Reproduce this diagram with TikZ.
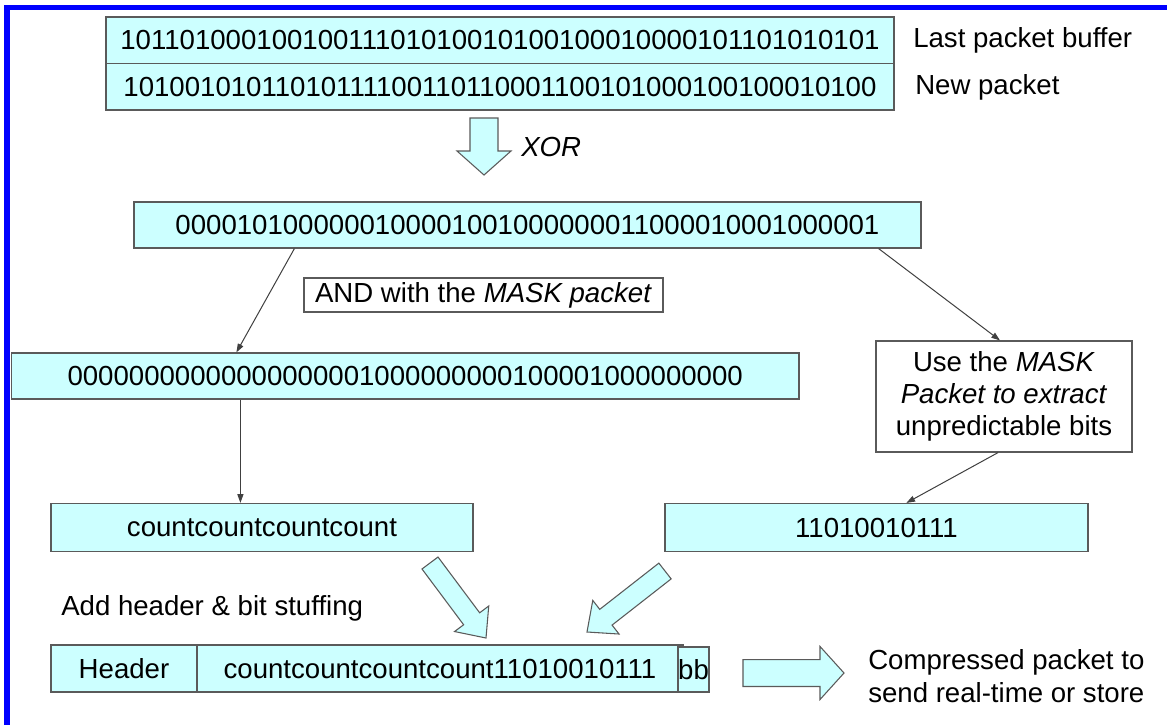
\documentclass[tikz,border=0pt]{standalone}
\usepackage{fontspec}
\setmainfont{Liberation Sans}
\usetikzlibrary{calc,arrows.meta}
\definecolor{cyanfill}{RGB}{204,255,255}
\definecolor{edge}{RGB}{90,90,90}
\definecolor{frameblue}{RGB}{0,0,255}
% block arrow from tail #1 to tip #2: shaft half width #3, head half width #4, head length #5
\newcommand{\myblockarrow}[5]{%
  \coordinate (#1-m) at ($(#2)!#5!(#1)$);
  \draw[barrow] ($(#1)!#3!90:(#2)$) -- ($(#1-m)!#3!-90:(#1)$) -- ($(#1-m)!#4!-90:(#1)$) -- (#2)
    -- ($(#1-m)!#4!90:(#1)$) -- ($(#1-m)!#3!90:(#1)$) -- ($(#1)!#3!-90:(#2)$) -- cycle;}

\begin{document}
\begin{tikzpicture}[x=0.75pt,y=-0.75pt,
  every node/.style={font=\fontsize{20.7}{24}\selectfont, text=black},
  wh/.style 2 args={minimum width=#1*0.75pt, minimum height=#2*0.75pt},
  cbox/.style={draw=edge, fill=cyanfill, line width=0.9pt, inner sep=0pt},
  wbox/.style={draw=edge, fill=white, line width=0.9pt, inner sep=0pt},
  txt/.style={inner sep=0pt},
  conn/.style={draw=black!75, line width=0.75pt, -{Triangle[length=6.5pt,width=4.5pt]}},
  barrow/.style={draw=edge, fill=cyanfill, line width=0.8pt, line join=miter}]

\fill[white] (0,0) rectangle (1167,725);
\useasboundingbox (0,0) rectangle (1167,725);

% blue frame (top and left visible)
\fill[frameblue] (4,5) rectangle (1167,10);
\fill[frameblue] (4,5) rectangle (10,725);

% top packets
\node[cbox, wh={788}{46.5}] (last) at (500,40.25) {10110100010010011101010010100100010000101101010101};
\node[cbox, wh={788}{46.5}] (new) at (500,86.75) {10100101011010111100110110001100101000100100010100};
\node[txt, anchor=west] (lastlbl) at (913,40) {Last packet buffer};
\node[txt, anchor=west] (newlbl) at (915,87) {New packet};

% XOR arrow
\coordinate (xt) at (484,118);
\coordinate (xp) at (484,175);
\myblockarrow{xt}{xp}{10.5pt}{20.25pt}{18pt}
\node[txt, anchor=west] (xorlbl) at (521,147) {\textit{XOR}};

% XOR result
\node[cbox, wh={787}{46}] (xor) at (527.5,225) {0000101000000100001001000000011000010001000001};

% AND label
\node[wbox, wh={359}{34}] (andlbl) at (483.5,295) {AND with the \textit{MASK packet}};

% AND result
\node[cbox, wh={787.5}{46}] (and) at (405.25,376) {00000000000000000001000000000100001000000000};

% Use the MASK box
\node[wbox, wh={256}{111}, align=center] (use) at (1004,396.5) {Use the \textit{MASK}\\\textit{Packet to extract}\\unpredictable bits};

% count and bits boxes
\node[cbox, wh={422}{48}] (cnt) at (262,527.5) {countcountcountcount};
\node[cbox, wh={423}{48}] (bits) at (876.5,527.5) {11010010111};

% diagonal block arrows
\coordinate (la1) at (430,563);
\coordinate (la2) at (486,638);
\myblockarrow{la1}{la2}{7.5pt}{16pt}{18pt}
\coordinate (ra1) at (665,571);
\coordinate (ra2) at (587,632);
\myblockarrow{ra1}{ra2}{7.5pt}{16pt}{18pt}

\node[txt, anchor=west] (addlbl) at (61,608) {Add header \& bit stuffing};

% final packet
\node[cbox, wh={146}{47}] (hdr) at (124,668.5) {Header};
\node[cbox, wh={486}{47}] (data) at (440,668.5) {countcountcountcount11010010111};
\node[cbox, wh={31}{45}] (bb) at (693.5,669.5) {bb};

% output arrow
\coordinate (ht) at (743,673);
\coordinate (hp) at (844,673);
\myblockarrow{ht}{hp}{10.1pt}{19.9pt}{18pt}
\node[txt, anchor=west, align=left, font=\fontsize{20.7}{24.75}\selectfont] (comp) at (868,676.5) {Compressed packet to\\send real-time or store};

% connectors
\draw[conn] ($(xor.south west)+(161,0)$) -- ($(and.north west)+(225.5,0)$);
\draw[conn] ($(xor.south east)+(-43,0)$) -- ($(use.north)+(-4,0)$);
\draw[conn] ($(and.south west)+(229.5,0)$) -- ($(cnt.north west)+(190,0)$);
\draw[conn] ($(use.south)+(-6,0)$) -- ($(bits.north west)+(242,0)$);
\end{tikzpicture}
\end{document}
